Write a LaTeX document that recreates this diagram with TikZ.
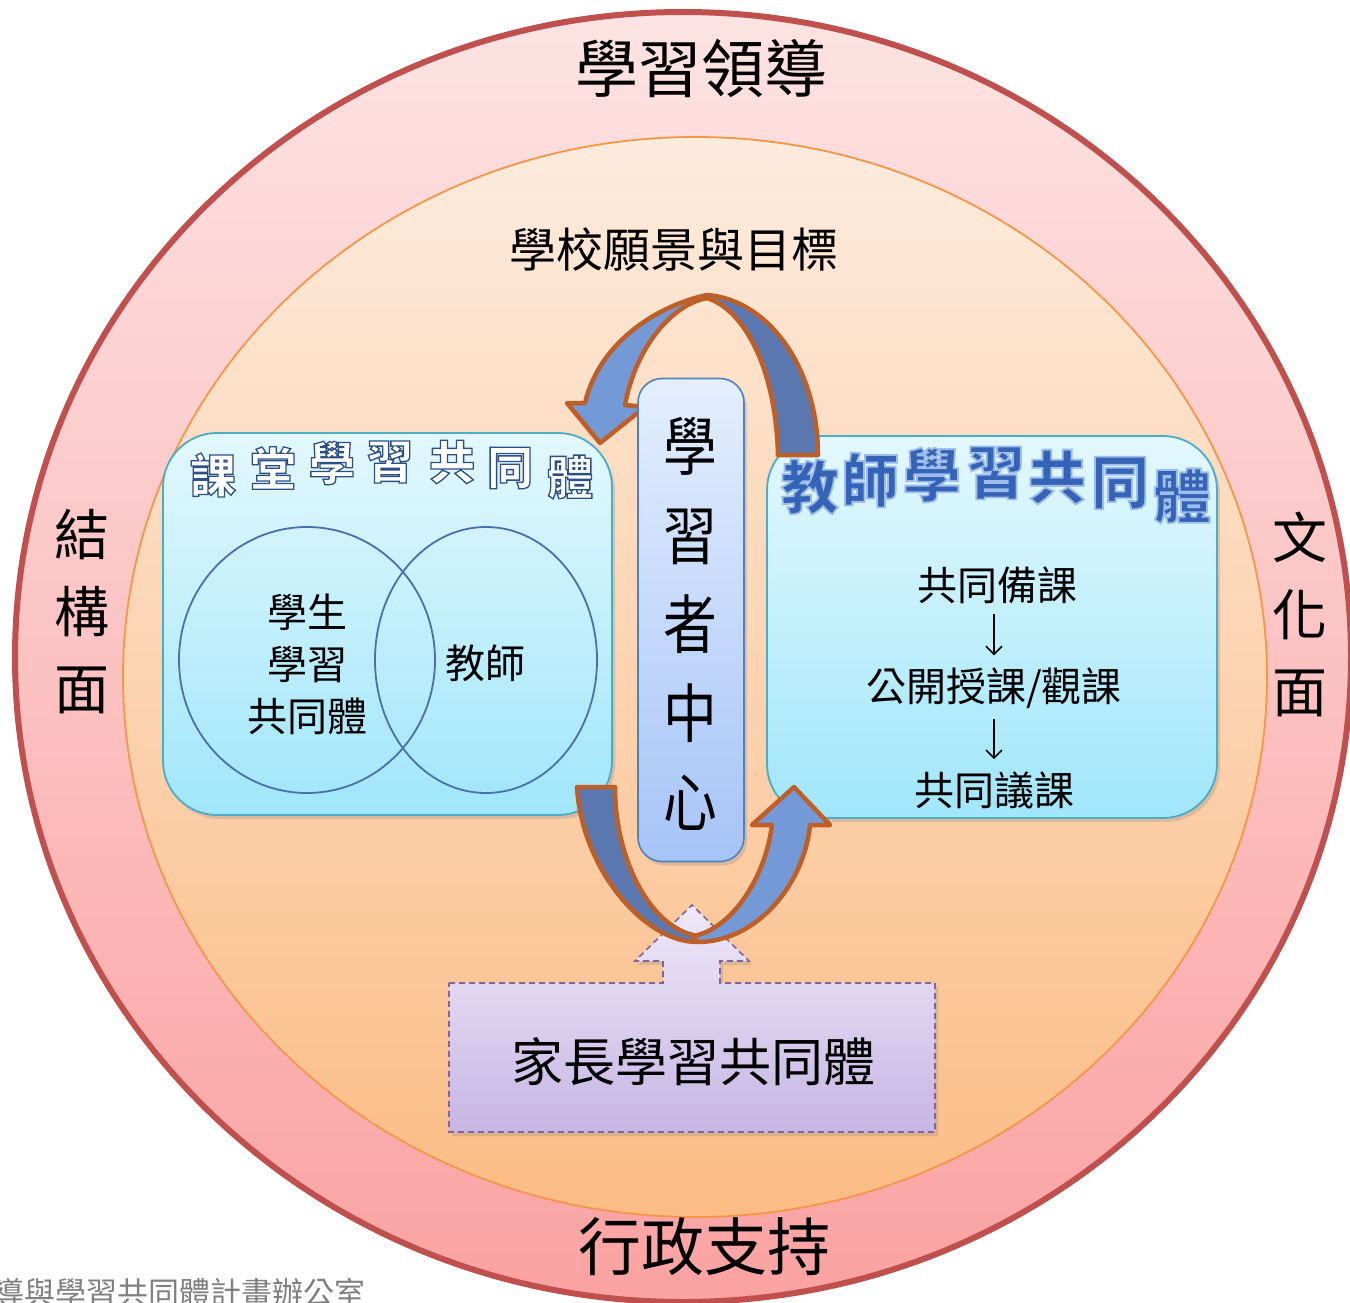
\documentclass[tikz,border=0pt]{standalone}
\usepackage{fontspec}
\usepackage{graphicx}
\setmainfont{Noto Sans CJK TC}
\usetikzlibrary{shadows,arrows.meta}
\definecolor{outerTop}{HTML}{FDE3E3}
\definecolor{outerBot}{HTML}{FBA2A2}
\definecolor{outerLine}{HTML}{C0504D}
\definecolor{innerTop}{HTML}{FDEBDD}
\definecolor{innerBot}{HTML}{FBBC85}
\definecolor{innerLine}{HTML}{F79646}
\definecolor{boxTop}{HTML}{E3F8FE}
\definecolor{boxBot}{HTML}{A0E6FA}
\definecolor{boxLine}{HTML}{4BACC6}
\definecolor{cTop}{HTML}{E4EEFE}
\definecolor{cBot}{HTML}{A6C4F8}
\definecolor{cLine}{HTML}{4F81BD}
\definecolor{arrLight}{HTML}{7399D7}
\definecolor{arrDark}{HTML}{5B79B0}
\definecolor{arrLine}{HTML}{BE5F28}
\definecolor{pTop}{HTML}{EEE9F8}
\definecolor{pBot}{HTML}{C7B5E4}
\definecolor{pLine}{HTML}{8064A2}
\definecolor{vennC}{HTML}{4A6FAF}
\definecolor{rtitleC}{HTML}{3563B6}
\newcommand\sqz[1]{\scalebox{0.84}[1]{#1}}
% outlined text: white fill, blue stroke
\newcommand\olt[1]{\special{pdf:literal direct 2 Tr 1.3 w 0.172 0.31 0.525 RG}#1\special{pdf:literal direct 0 Tr}}
% blue text with light halo stroke
\newcommand\glt[1]{\special{pdf:literal direct 2 Tr 1.8 w 0.62 0.74 0.93 RG}#1\special{pdf:literal direct 0 Tr}}
\tikzset{
  txt/.style={inner sep=0pt, text=black},
  softshadow/.style={drop shadow={opacity=0.25, shadow xshift=3pt, shadow yshift=-4pt}},
  cbox/.style={draw=boxLine, line width=1.8pt, top color=boxTop, bottom color=boxBot, rounded corners=54pt, softshadow},
  ltitle/.style={inner sep=0pt, text=white, font=\fontsize{46}{46}\selectfont\bfseries},
  rtitle/.style={inner sep=0pt, text=rtitleC, font=\fontsize{58}{58}\selectfont\bfseries},
  arrpiece/.style={draw=arrLine, line width=4.5pt, line join=round},
  flow/.style={-{Straight Barb[length=8pt,width=16pt]}, line width=1.6pt, shorten <=10pt, shorten >=12pt},
  venn/.style={draw=vennC, line width=1.8pt}
}
\begin{document}
\begin{tikzpicture}[x=1pt,y=-1pt]
\useasboundingbox (0,0) rectangle (1350,1303);
\fill[white] (0,0) rectangle (1350,1303);
% outer and inner rings
\path[draw=outerLine, line width=6pt, top color=outerTop, bottom color=outerBot] (683,657) ellipse [x radius=668, y radius=645];
\path[draw=innerLine, line width=1.8pt, top color=innerTop, bottom color=innerBot] (695,677) ellipse [x radius=572, y radius=540];
% ring labels
\node[txt, font=\fontsize{63}{63}\selectfont] (lead) at (701,68) {學習領導};
\node[txt, font=\fontsize{63}{63}\selectfont] (admin) at (704,1247) {行政支持};
\node[txt, font=\fontsize{55}{77}\selectfont, align=center] (struct) at (82,612) {結\\構\\面};
\node[txt, font=\fontsize{55}{77}\selectfont, align=center] (cult) at (1300,614) {文\\化\\面};
\node[txt, font=\fontsize{47}{47}\selectfont] (vision) at (674,250) {學校願景與目標};
% caption
\node[txt, anchor=east, text=gray, font=\fontsize{31}{31}\selectfont] (cap) at (366,1293) {導與學習共同體計畫辦公室};
% left box
\node[cbox, minimum width=449pt, minimum height=382pt] (lbox) at (387.5,624) {};
\draw[venn] (307,660) ellipse [x radius=128, y radius=133];
\draw[venn] (486,660) ellipse [x radius=111, y radius=133];
\node[txt, font=\fontsize{40}{52}\selectfont, align=center] (stu) at (307,664) {學生\\學習\\共同體};
\node[txt, font=\fontsize{40}{40}\selectfont] (teach) at (485,663) {教師};
\node[ltitle] (l1) at (213,475) {\olt{課}};
\node[ltitle] (l2) at (273,468) {\olt{堂}};
\node[ltitle] (l3) at (332,463) {\olt{學}};
\node[ltitle] (l4) at (390,462) {\olt{習}};
\node[ltitle] (l5) at (452,462) {\olt{共}};
\node[ltitle] (l6) at (510,468) {\olt{同}};
\node[ltitle] (l7) at (570,477) {\olt{體}};
% right box
\node[cbox, minimum width=450pt, minimum height=382pt] (rbox) at (992,627) {};
\node[rtitle] (r1) at (810,487) {\glt{教}};
\node[rtitle] (r2) at (870,480) {\glt{師}};
\node[rtitle] (r3) at (932,475) {\glt{學}};
\node[rtitle] (r4) at (996,473) {\glt{習}};
\node[rtitle] (r5) at (1057,477) {\glt{共}};
\node[rtitle] (r6) at (1120,483) {\glt{同}};
\node[rtitle] (r7) at (1182,496) {\glt{體}};
\node[txt, font=\fontsize{40}{40}\selectfont] (s1) at (997,585) {共同備課};
\node[txt, font=\fontsize{40}{40}\selectfont] (s2) at (994,688) {公開授課/觀課};
\node[txt, font=\fontsize{40}{40}\selectfont] (s3) at (994,790) {共同議課};
\draw[flow] (s2.north |- s1.south) -- (s2.north);
\draw[flow] (s3.north |- s2.south) -- (s3.north);
% parent box with up arrow
\path[draw=pLine, line width=1.6pt, dash pattern=on 6pt off 4pt, top color=pTop, bottom color=pBot, softshadow]
  (449,983) -- (663,983) -- (663,961) -- (635,961) -- (692,905) -- (749,961) -- (720,961) -- (720,983) -- (935,983) -- (935,1132) -- (449,1132) -- cycle;
\node[txt, font=\fontsize{52}{52}\selectfont] (parent) at (693,1062) {家長學習共同體};
% top curved arrow
\path[arrpiece, fill=arrDark] (707,295) .. controls (770,300) and (818,370) .. (818,455) -- (778,455) .. controls (776,370) and (745,310) .. (707,298) -- cycle;
\path[arrpiece, fill=arrLight] (707,295) .. controls (660,305) and (600,340) .. (585,403) -- (567,403) -- (600,443) -- (645,407) -- (625,405) .. controls (635,350) and (670,305) .. (707,298) -- cycle;
% bottom curved arrow
\path[arrpiece, fill=arrDark] (577,787) .. controls (582,870) and (645,942) .. (697,942) -- (693,935) .. controls (650,925) and (615,860) .. (615,787) -- cycle;
\path[arrpiece, fill=arrLight] (697,942) .. controls (760,942) and (805,880) .. (810,825) -- (830,825) -- (794,787) -- (752,825) -- (772,825) .. controls (765,880) and (730,930) .. (693,936) -- cycle;
% center box
\node[draw=cLine, line width=1.6pt, top color=cTop, bottom color=cBot, rounded corners=24pt, minimum width=106pt, minimum height=483pt, softshadow] (cbx) at (691,620) {};
\node[txt, font=\fontsize{64}{89}\selectfont, align=center] (learner) at (690,624) {\sqz{學}\\\sqz{習}\\\sqz{者}\\\sqz{中}\\\sqz{心}};
\end{tikzpicture}
\end{document}
